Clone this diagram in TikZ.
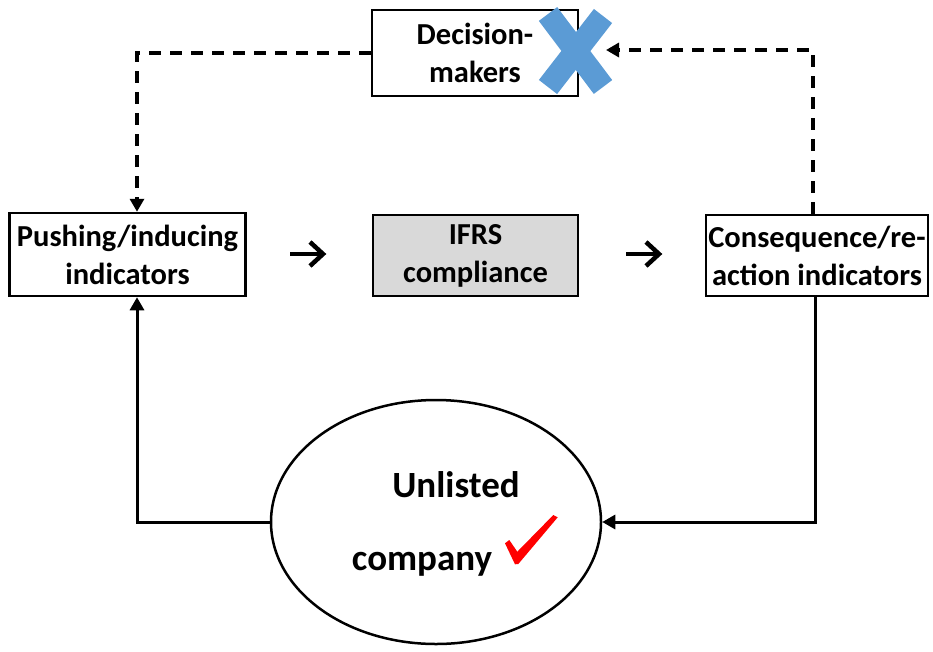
\documentclass[tikz,border=0pt]{standalone}
\usepackage{fontspec}
\setmainfont{Carlito}
\usetikzlibrary{arrows.meta,shapes.geometric}
\definecolor{boxgray}{HTML}{D9D9D9}
\definecolor{xblue}{HTML}{5B9BD5}
\definecolor{checkred}{HTML}{FF0000}
\begin{document}
\begin{tikzpicture}[x=1pt,y=-1pt,
  box/.style={draw, line width=2.5pt, inner sep=0pt, align=center,
    font=\fontsize{30.5}{38}\selectfont\bfseries},
  bigtext/.style={inner sep=0pt, anchor=base, font=\fontsize{37}{44}\selectfont\bfseries},
  flowarrow/.style={line width=4.5pt, miter limit=10},
  dashline/.style={line width=3.5pt, dash pattern=on 12pt off 9pt,
    -{Triangle[length=13pt,width=14pt]}},
  solidline/.style={line width=3pt, -{Triangle[length=13pt,width=14pt]}}]
\useasboundingbox (0,0) rectangle (933,651);

% boxes
\node[box, minimum width=206, minimum height=86] (dm) at (475,53) {Decision-\\makers};
\node[box, minimum width=236, minimum height=83] (push) at (127.5,254.5) {Pushing/inducing\\indicators};
\node[box, fill=boxgray, minimum width=205, minimum height=81] (ifrs) at (475.5,255.5) {IFRS\\compliance};
\node[box, minimum width=222, minimum height=81] (cons) at (817,255.5) {Consequence/re-\\action indicators};

% ellipse with its two lines of text
\node[draw, ellipse, line width=2.5pt, minimum width=330, minimum height=244] (uc) at (436,522) {};
\node[bigtext] (unl) at (456,497) {Unlisted};
\node[bigtext] (comp) at (422,570) {company};

% arrows between the boxes: shaft plus an open chevron head
\foreach \sx/\nm in {290/a1, 626/a2} {
  \coordinate (\nm s) at (\sx,254);
  \coordinate (\nm e) at (\sx+32,254);
  \draw[flowarrow] (\nm s) -- (\nm e);
  \draw[flowarrow] ([shift={(-12,-12)}]\nm e) -- ([xshift=1]\nm e) -- ([shift={(-12,12)}]\nm e);
}

% blue cross over the decision-makers box
\draw[xblue, line width=23pt] (548,14) -- (603,87);
\draw[xblue, line width=23pt] (603,16) -- (548,87);
\coordinate (xtip) at (606,50);

% red tick
\fill[checkred] (505,543.3) -- (509.3,540) -- (517.3,551.7) -- (553.3,515)
  -- (557.7,517.3) -- (518.3,564) -- (515,564.3) -- cycle;

% feedback loop
\draw[dashline] (dm.west) -| ([xshift=9.5pt]push.north);
\draw[dashline] ([xshift=-4pt]cons.north) |- (xtip);
\draw[solidline] (uc.west) -| ([xshift=9.5pt]push.south);
\draw[solidline] ([xshift=-2pt]cons.south) |- (uc.east);
\end{tikzpicture}
\end{document}
